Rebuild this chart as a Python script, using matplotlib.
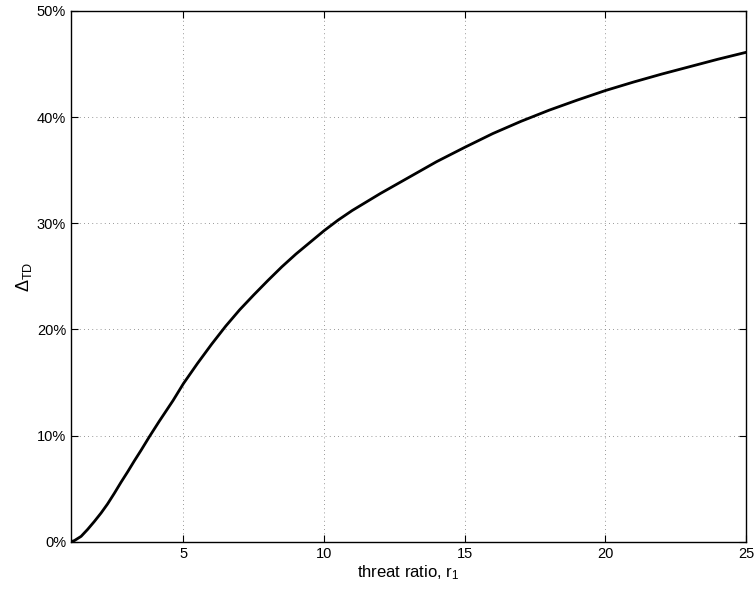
import numpy as np
import matplotlib
matplotlib.use('Agg')
import matplotlib.pyplot as plt
from matplotlib.ticker import PercentFormatter

plt.rcParams['font.family'] = ['Liberation Sans', 'DejaVu Sans']
plt.rcParams['mathtext.fontset'] = 'custom'
plt.rcParams['mathtext.rm'] = 'Liberation Sans'
plt.rcParams['mathtext.it'] = 'Liberation Sans'

# threat ratio r1 and Delta_TD (%)
r1 = [1.0, 1.12, 1.36, 1.59, 1.83, 2.07, 2.30, 2.54, 2.78, 3.02, 3.25, 3.49,
      3.79, 4.14, 4.63, 5.0, 5.5, 6.0, 6.5, 7.0, 7.5, 8.0, 8.5, 9.0, 9.5,
      10.0, 10.5, 11.0, 12.0, 13.0, 14.0, 15.0, 16.0, 17.0, 18.0, 19.0,
      20.0, 21.0, 22.0, 23.0, 24.0, 25.0]
delta_td = [0.0, 0.1, 0.5, 1.15, 1.9, 2.7, 3.55, 4.55, 5.6, 6.6, 7.6, 8.6,
            9.9, 11.35, 13.3, 14.9, 16.8, 18.6, 20.3, 21.85, 23.25, 24.6,
            25.9, 27.1, 28.2, 29.3, 30.3, 31.2, 32.8, 34.3, 35.8, 37.15,
            38.45, 39.6, 40.65, 41.6, 42.5, 43.3, 44.05, 44.75, 45.45, 46.1]

xticks = [5, 10, 15, 20, 25]
yticks = [0, 10, 20, 30, 40, 50]

fig = plt.figure(figsize=(7.55, 5.99), dpi=100)
ax = fig.add_axes([0.094, 0.0957, 0.894, 0.886])

ax.plot(r1, delta_td, color='black', linewidth=2.0)

ax.set_xlim(1, 25)
ax.set_ylim(0, 50)
ax.set_xticks(xticks)
ax.set_yticks(yticks)
ax.yaxis.set_major_formatter(PercentFormatter(decimals=0))
ax.grid(True, linestyle=(0, (1, 4)), color='#777777', linewidth=0.6)
ax.tick_params(direction='in', top=True, right=True, labelsize=10.5, length=5)
for s in ax.spines.values():
    s.set_linewidth(1.0)

ax.set_xlabel('threat ratio, r$_1$', fontsize=12, labelpad=2)
ax.set_ylabel('$\\Delta_{\\mathrm{TD}}$', fontsize=13, labelpad=2)

fig.savefig('out.png', dpi=100)
